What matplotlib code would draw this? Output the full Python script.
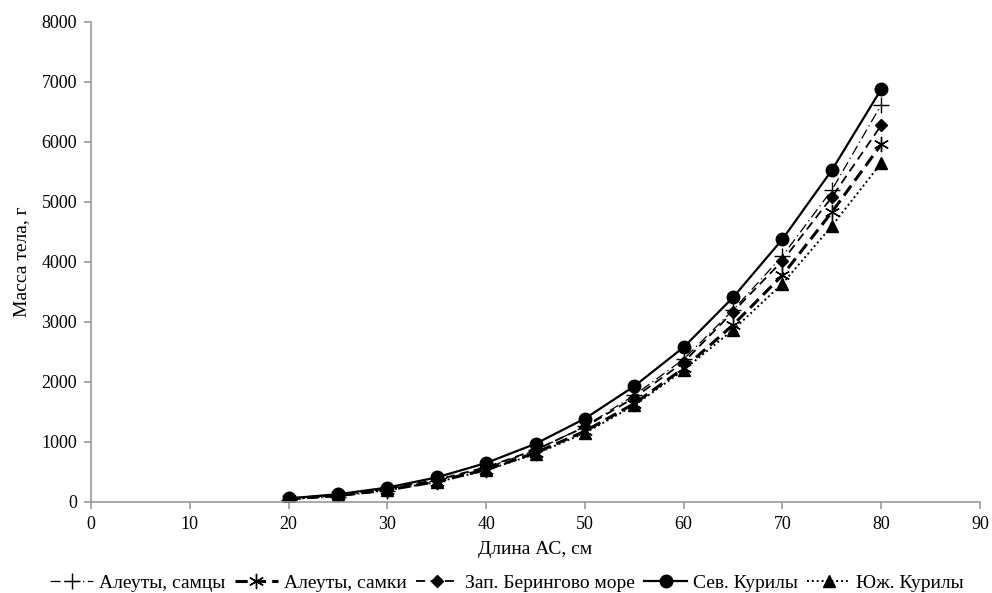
import matplotlib.pyplot as plt

plt.rcParams['font.family'] = ['Liberation Serif', 'DejaVu Serif']

length = [20, 25, 30, 35, 40, 45, 50, 55, 60, 65, 70, 75, 80]

aleut_m = [40, 90, 190, 350, 570, 860, 1260, 1780, 2380, 3200, 4100, 5200, 6620]
aleut_f = [50, 110, 200, 340, 540, 820, 1180, 1640, 2230, 2950, 3780, 4830, 5960]
bering = [60, 120, 220, 370, 580, 870, 1250, 1740, 2330, 3170, 4020, 5080, 6280]
north_kur = [60, 130, 240, 410, 650, 970, 1390, 1930, 2580, 3410, 4380, 5530, 6880]
south_kur = [50, 110, 200, 330, 530, 800, 1150, 1610, 2200, 2870, 3640, 4600, 5650]

labels = ['Алеуты, самцы', 'Алеуты, самки', 'Зап. Берингово море', 'Сев. Курилы', 'Юж. Курилы']

fig = plt.figure(figsize=(9.92, 5.93), dpi=100)
ax = fig.add_axes([91 / 992, 1 - 502 / 593, 889 / 992, 480 / 593])

ax.plot(length, aleut_m, color='black', lw=0.9, ls=(0, (8, 3, 1, 3)),
        marker='+', ms=11, mew=1.0, label=labels[0])
ax.plot(length, aleut_f, color='black', lw=2.2, ls=(0, (4, 2)),
        marker=(6, 2, 0), ms=11, mew=1.0, label=labels[1])
ax.plot(length, bering, color='black', lw=1.3, ls=(0, (5, 3)),
        marker='D', ms=6, label=labels[2])
ax.plot(length, north_kur, color='black', lw=1.6, ls='-',
        marker='o', ms=9, label=labels[3])
ax.plot(length, south_kur, color='black', lw=1.4, ls=(0, (1, 1.5)),
        marker='^', ms=9, label=labels[4])

ax.set_xlim(0, 90)
ax.set_ylim(0, 8000)
ax.set_xticks(range(0, 91, 10))
ax.set_yticks(range(0, 8001, 1000))

for s in ['top', 'right']:
    ax.spines[s].set_visible(False)
for s in ['left', 'bottom']:
    ax.spines[s].set_color('#9a9a9a')
    ax.spines[s].set_linewidth(1.2)
ax.tick_params(colors='#9a9a9a', labelcolor='black', labelsize=13, length=5, width=1.2, pad=5)

ax.set_xlabel('Длина АС, см', fontsize=14, labelpad=6)
ax.set_ylabel('Масса тела, г', fontsize=14, labelpad=8)

ax.legend(loc='upper center', bbox_to_anchor=(0.468, -0.135), ncol=5, frameon=False,
          fontsize=14, handlelength=2.2, handletextpad=0.3, columnspacing=0.5,
          borderaxespad=0)

fig.savefig('out.png', dpi=100)
